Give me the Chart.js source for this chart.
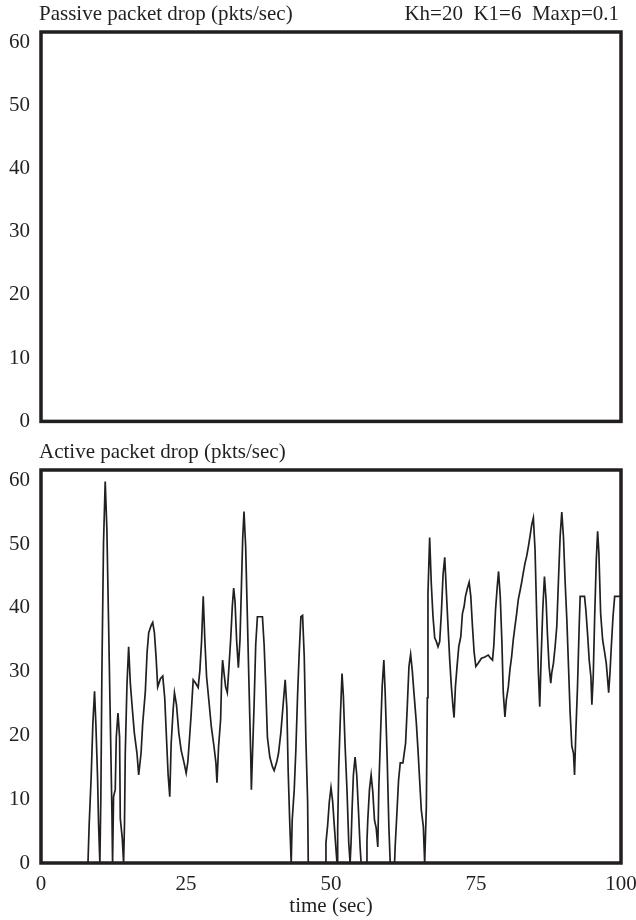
<!DOCTYPE html>
<html>
<head>
<meta charset="utf-8">
<script src="https://cdn.jsdelivr.net/npm/chart.js@4/dist/chart.umd.min.js"></script>
<style>
  html, body { margin: 0; padding: 0; background: #fff; }
  #wrap { position: relative; width: 636px; height: 920px; }
  #wrap canvas { position: absolute; left: 0; }
</style>
</head>
<body>
<div id="wrap">
  <canvas id="passive" width="636" height="445" style="top:0"></canvas>
  <canvas id="active" width="636" height="480" style="top:440px"></canvas>
</div>
<script>
  // values (time in sec, drops in pkts/sec)
  const passiveTime = [0, 100];
  const passiveDrop = [0, 0];

  const activeTime = [
    0, 8.1, 8.3, 8.65, 8.94, 9.23, 9.46, 9.75, 9.92, 10.15, 10.32, 10.5, 10.78, 11.07, 11.36, 11.65, 11.94, 12.23, 12.34,
    12.51, 12.8, 12.98, 13.27, 13.55, 13.67, 14.01, 14.24, 14.4, 14.53, 14.82, 15.11, 15.4, 15.69, 16.09, 16.55, 16.84,
    17.25, 17.53, 17.99, 18.29, 18.57, 18.98, 19.26, 19.55, 19.84, 20.12, 20.59, 20.99, 21.33, 21.63, 21.92, 22.2, 22.44,
    22.79, 23.01, 23.36, 23.76, 24.16, 24.62, 25.03, 25.32, 25.61, 25.9, 26.24, 26.64, 27.1, 27.39, 27.68, 27.97, 28.26,
    28.55, 29.01, 29.36, 29.82, 30.16, 30.34, 30.62, 30.97, 31.14, 31.31, 31.55, 31.83, 32.12, 32.41, 32.7, 32.99, 33.22,
    33.45, 33.74, 34.03, 34.31, 34.54, 34.77, 35.0, 35.29, 35.58, 35.87, 36.16, 36.27, 36.45, 36.74, 37.02, 37.31, 37.6,
    38.18, 38.47, 38.75, 39.04, 39.45, 39.9, 40.2, 40.66, 40.95, 41.35, 41.7, 42.1, 42.39, 42.62, 42.91, 43.14, 43.31,
    43.66, 43.94, 44.23, 44.52, 44.81, 45.1, 45.39, 45.67, 45.97, 46.08, 49.05, 49.13, 49.42, 49.71, 50.0, 50.29, 50.58,
    50.87, 51.04, 51.15, 51.33, 51.61, 51.9, 52.13, 52.42, 52.77, 53.06, 53.29, 53.46, 53.63, 53.86, 54.15, 54.44, 54.73,
    55.02, 55.19, 56.06, 56.2, 56.34, 56.63, 56.92, 57.21, 57.5, 57.79, 58.07, 58.25, 58.53, 58.82, 59.11, 59.34, 59.69,
    59.98, 60.21, 60.96, 61.07, 61.36, 61.65, 61.94, 62.4, 62.86, 63.15, 63.44, 63.73, 64.01, 64.3, 64.71, 65.0, 65.28,
    65.57, 65.92, 66.15, 66.44, 66.61, 66.72, 67.01, 67.3, 67.59, 67.88, 68.17, 68.45, 68.74, 69.03, 69.32, 69.61, 69.9,
    70.18, 70.47, 70.76, 71.05, 71.22, 71.45, 71.74, 72.03, 72.38, 72.66, 72.95, 73.18, 73.53, 73.82, 74.1, 74.39, 74.68,
    74.97, 75.37, 75.95, 76.53, 77.11, 77.51, 77.85, 78.08, 78.37, 78.66, 78.89, 79.18, 79.47, 79.7, 79.99, 80.22, 80.57,
    80.85, 81.14, 81.43, 81.72, 82.01, 82.29, 82.58, 82.87, 83.16, 83.45, 83.74, 84.03, 84.31, 84.6, 84.89, 85.18, 85.47,
    85.76, 85.99, 86.22, 86.51, 86.8, 87.08, 87.31, 87.6, 87.89, 88.06, 88.35, 88.64, 88.93, 89.22, 89.5, 89.79, 90.08,
    90.37, 90.66, 90.95, 91.23, 91.52, 91.81, 91.99, 92.21, 92.5, 92.79, 92.96, 93.71, 93.94, 94.23, 94.52, 94.81, 94.98,
    95.21, 95.45, 95.74, 95.97, 96.19, 96.49, 96.83, 97.18, 97.46, 97.7, 97.87, 98.1, 98.33, 98.62, 98.91, 100
  ];
  const activeDrop = [
    0, 0, 5.9, 13.5, 21.8, 26.9, 21.8, 13.5, 6.3, 0, 10.4, 30, 50.2, 59.8, 52.3, 37.7, 22.8, 7.9, 0,
    10.4, 11.5, 19.7, 23.5, 19.7, 7.0, 3.9, 0, 6.3, 17.2, 27.9, 33.9, 28.2, 24.8, 20.4, 17.2, 13.8,
    17.2, 21.8, 26.9, 33, 36.1, 37.2, 37.7, 36.1, 32.3, 27.6, 28.9, 29.3, 25.9, 19.7, 13.8, 10.4, 18.7,
    24.1, 26.7, 24.8, 20.4, 17.7, 15.9, 14.1, 15.9, 19.6, 23.5, 28.7, 28.2, 27.5, 30.2, 34.7, 41.8, 34.7,
    29.2, 24.8, 21.4, 18.3, 15.7, 12.6, 18.3, 22.5, 28.7, 31.8, 29.8, 27.6, 26.7, 30.8, 35, 40.3, 43.1,
    41, 34.7, 30.6, 35, 42.8, 50.7, 55.1, 49.5, 38.6, 27.6, 16.9, 11.5, 16.6, 24.8, 34.2, 38.6, 38.6,
    38.6, 34.2, 27.6, 19.7, 16.6, 15.1, 14.5, 15.9, 17.2, 20.4, 24.3, 28.7, 24.3, 14.3, 5.7, 0, 6.7,
    11.5, 17.7, 26.1, 33, 38.6, 38.8, 32.3, 19.3, 9.6, 0, 0, 3.2, 5.9, 9.6, 11.8, 9.6, 5.7,
    2.0, 0, 5.3, 14.9, 22.8, 29.7, 26.2, 18.6, 11.1, 3.2, 0, 3.2, 8.3, 13.8, 16.6, 13.8, 8.3,
    2.5, 0, 0, 3.5, 6.7, 11.5, 13.8, 11.1, 6.7, 5.5, 2.5, 12, 19.8, 27.6, 31.8, 26.7, 16.2,
    5.7, 0, 0, 2.7, 7.8, 13, 15.7, 15.7, 18.8, 24.5, 30.8, 32.7, 30.2, 26.7, 22, 17.7, 13,
    8.3, 5.7, 0, 8.8, 25.9, 42.3, 51, 43.6, 38.6, 35.3, 34.7, 33.9, 34.7, 39.2, 45.2, 47.9, 42.3,
    37.1, 31.8, 27.6, 24.3, 22.8, 27.6, 30.9, 33.9, 35.5, 39.1, 40.2, 41.8, 43.1, 44, 41.8, 37.1, 33,
    30.8, 31.3, 32.1, 32.3, 32.6, 32.1, 31.8, 34.2, 39.7, 43.3, 45.7, 41.8, 34.5, 26.7, 22.9, 25.5, 27.6,
    30.3, 32.3, 35, 37.1, 39.1, 41.3, 42.6, 44, 45.5, 47, 48.1, 49.6, 51.2, 53, 54.1, 49.1, 38.6,
    29.8, 24.5, 31.8, 39.7, 44.9, 41.3, 36, 30.8, 28.2, 29.8, 31.3, 33.9, 37.1, 44.4, 51.1, 55, 51.1,
    44, 38.2, 30.8, 23.5, 18.3, 17.2, 13.8, 20.4, 27.6, 37.1, 41.8, 41.8, 39.7, 36, 31.8, 29.2, 24.8,
    29.2, 38.2, 47.5, 52, 48.6, 39.1, 35, 33, 31.3, 28.7, 26.7, 29.8, 33.9, 38.6, 41.8, 41.8
  ];

  const yTicks = [0, 10, 20, 30, 40, 50, 60];
  const xTicks = [0, 25, 50, 75, 100];

  const INK = "#231f20";
  const FONT = { family: "'Liberation Serif', 'DejaVu Serif', serif", size: 21 };

  // frame box + panel captions, drawn on the chart area
  const panelFrame = {
    id: "panelFrame",
    beforeDatasetsDraw(chart, args, opts) {
      const { ctx, chartArea: a } = chart;
      ctx.save();
      ctx.strokeStyle = INK;
      ctx.lineWidth = 3.5;
      ctx.strokeRect(a.left, a.top, a.right - a.left, a.bottom - a.top);
      ctx.fillStyle = INK;
      ctx.font = "21px 'Liberation Serif', serif";
      ctx.textBaseline = "alphabetic";
      ctx.textAlign = "left";
      ctx.fillText(opts.left, a.left - 2, a.top - 12);
      if (opts.right) {
        ctx.textAlign = "right";
        ctx.fillText(opts.right, a.right - 2, a.top - 12);
      }
      ctx.restore();
    },
  };

  function zip(xs, ys) {
    return xs.map((x, i) => ({ x: x, y: ys[i] }));
  }

  function yScale() {
    return {
      min: 0,
      max: 61.6,
      afterFit: (s) => { s.width = 41; },
      afterBuildTicks: (s) => { s.ticks = yTicks.map((v) => ({ value: v })); },
      grid: { display: false, drawTicks: false },
      border: { display: false },
      ticks: { padding: 11, color: INK, font: FONT },
    };
  }

  function makeChart(id, data, caption, xOpts, padding) {
    return new Chart(document.getElementById(id), {
      type: "line",
      data: {
        datasets: [
          {
            data: data,
            borderColor: INK,
            borderWidth: 1.7,
            pointRadius: 0,
            tension: 0,
            fill: false,
          },
        ],
      },
      options: {
        responsive: false,
        animation: false,
        devicePixelRatio: 1,
        layout: { padding: padding },
        plugins: {
          legend: { display: false },
          tooltip: { enabled: false },
          panelFrame: caption,
        },
        scales: { x: xOpts, y: yScale() },
      },
      plugins: [panelFrame],
    });
  }

  makeChart(
    "passive",
    zip(passiveTime, passiveDrop),
    { left: "Passive packet drop (pkts/sec)", right: "Kh=20  K1=6  Maxp=0.1" },
    { type: "linear", min: 0, max: 100, display: false },
    { top: 32, right: 15, bottom: 19, left: 0 }
  );

  makeChart(
    "active",
    zip(activeTime, activeDrop),
    { left: "Active packet drop (pkts/sec)" },
    {
      type: "linear",
      min: 0,
      max: 100,
      afterFit: (s) => { s.height = 57; s.paddingLeft = 0; s.paddingRight = 0; },
      afterBuildTicks: (s) => { s.ticks = xTicks.map((v) => ({ value: v })); },
      grid: { display: false, drawTicks: false },
      border: { display: false },
      ticks: { padding: 9, color: INK, font: FONT, maxRotation: 0 },
      title: { display: true, text: "time (sec)", color: INK, font: FONT, padding: { top: 0, bottom: 1 } },
    },
    { top: 30, right: 15, bottom: 0, left: 0 }
  );
</script>
</body>
</html>
